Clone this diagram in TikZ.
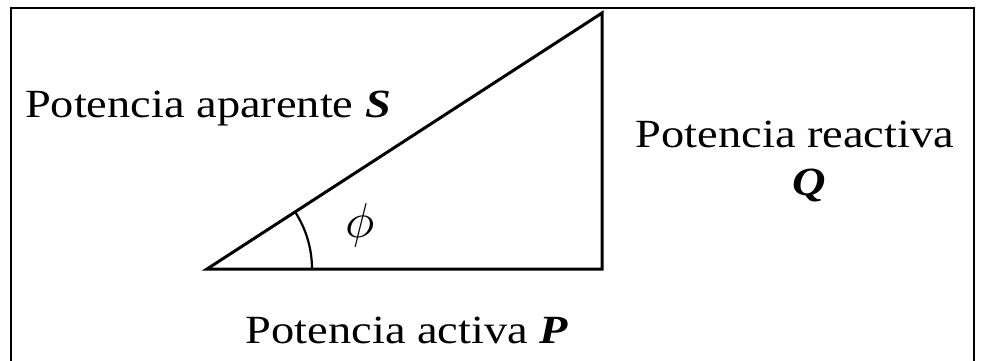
\documentclass[tikz,border=0pt]{standalone}
\usepackage{fontspec}
\setmainfont{Liberation Serif}[FakeStretch=1.16]
\begin{document}
\begin{tikzpicture}[x=1pt,y=1pt,
  lbl/.style={anchor=base,inner sep=0pt,font=\fontsize{40}{44}\selectfont},
  tri/.style={line width=3pt,line join=miter}]
\useasboundingbox (0,0) rectangle (984,360);
\fill[white] (0,0) rectangle (984,360);
\begin{scope}
\clip (0,0) rectangle (984,360);
\draw[line width=2pt] (11,-10) -- (11,352) -- (974,352) -- (974,-10);
\end{scope}
\coordinate (A) at (207,91);
\coordinate (B) at (602,91);
\coordinate (C) at (602,347);
\draw[tri] (A) -- (B) -- (C) -- cycle;
\draw[line width=2.2pt] ([xshift=105pt]A) arc[start angle=0,end angle={atan2(256,395)},radius=105pt];
\node[inner sep=0pt] (phi) at (360,135) {\scalebox{4.9}{$\phi$}};
\node[lbl] (S) at (208,243) {Potencia aparente \textbf{\textit{S}}};
\node[lbl] (R) at (795,213) {Potencia reactiva};
\node[lbl] (Q) at (809,165) {\textbf{\textit{Q}}};
\node[lbl] (P) at (407,17) {Potencia activa \textbf{\textit{P}}};
\end{tikzpicture}
\end{document}
